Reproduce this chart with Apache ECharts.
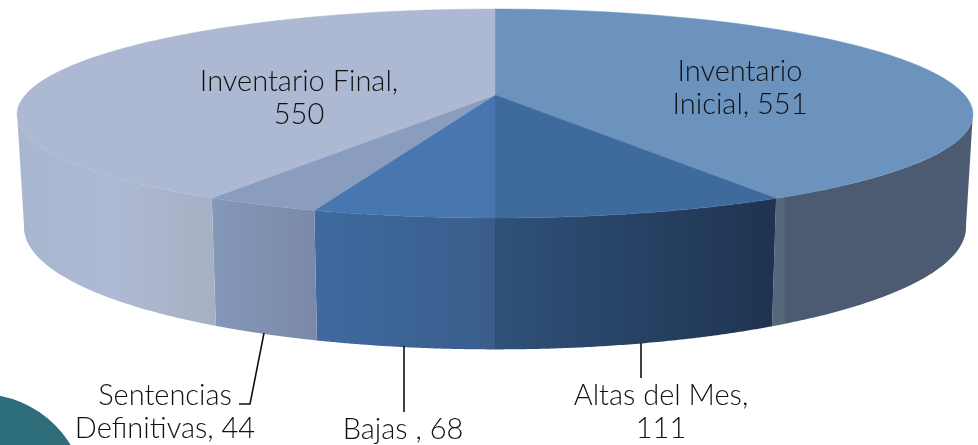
<!DOCTYPE html>
<html>
<head>
<meta charset="utf-8">
<title>Inventario</title>
<script src="https://cdn.jsdelivr.net/npm/echarts@6/dist/echarts.min.js"></script>
<style>
  html, body { margin: 0; padding: 0; background: #fff; }
  #main { width: 978px; height: 445px; }
</style>
</head>
<body>
<div id="main"></div>
<script>
var categories = ['Inventario Inicial', 'Altas del Mes', 'Bajas ', 'Sentencias Definitivas', 'Inventario Final'];
var values = [551, 111, 68, 44, 550];

var topColors = ['#6b93bd', '#3f6a9c', '#4776b0', '#8a9dbf', '#adb9d2'];
var sideStops = [
    [[0, '#56687b'], [0.06, '#56687b'], [0.065, '#4c5b72'], [1, '#4c5b72']],
    [[0, '#2f5179'], [1, '#1f3350']],
    [[0, '#3f6aa0'], [1, '#3a5d8b']],
    [[0, '#8498b9'], [1, '#7b88a9']],
    [[0, '#a8b6cf'], [0.5, '#aebad3'], [1, '#a5b0c3']]
];

var total = values.reduce(function (a, b) { return a + b; }, 0);
var angles = [0];
values.forEach(function (v, i) { angles.push(angles[i] + v / total * Math.PI * 2); });

// perspective of the top and bottom faces of the disc
var cx = 495;
var topFace = { r: 469.7, a: 95, b: 84.4, c: -0.177, cu: -0.185 };
var botFace = { r: 462.9, a: 204, b: 86, c: -0.17, cu: -0.185 };
var visFrom = 100 * Math.PI / 180;
var visTo = 260 * Math.PI / 180;

function project(f, t) {
    var u = Math.sin(t), v = -Math.cos(t);
    return [cx + f.r * u / (1 + f.cu * v), (f.a + f.b * v) / (1 + f.c * v)];
}

function arc(f, from, to) {
    var pts = [], n = 90;
    for (var i = 0; i <= n; i++) {
        pts.push(project(f, from + (to - from) * i / n));
    }
    return pts;
}

function renderTop(params, api) {
    var i = params.dataIndex;
    var pts = [[cx, topFace.a]].concat(arc(topFace, angles[i], angles[i + 1]));
    return {
        type: 'polygon',
        shape: { points: pts },
        style: { fill: topColors[i], stroke: topColors[i], lineWidth: 0.5 }
    };
}

function renderSide(params, api) {
    var i = params.dataIndex;
    var from = Math.max(angles[i], visFrom);
    var to = Math.min(angles[i + 1], visTo);
    if (to <= from) return null;
    var pts = arc(topFace, from, to).concat(arc(botFace, from, to).reverse());
    var stops = sideStops[i].map(function (s) { return { offset: s[0], color: s[1] }; });
    return {
        type: 'polygon',
        shape: { points: pts },
        style: { fill: new echarts.graphic.LinearGradient(0, 0, 1, 0, stops) }
    };
}

function label(text, x, y) {
    return {
        type: 'text',
        x: x,
        y: y,
        z: 10,
        style: {
            text: text,
            fill: '#111',
            font: '300 29px Lato, sans-serif',
            lineHeight: 33,
            align: 'center',
            verticalAlign: 'middle'
        }
    };
}

function leader(points) {
    return {
        type: 'polyline',
        z: 9,
        shape: { points: points },
        style: { stroke: '#111', lineWidth: 1.6, fill: null }
    };
}

var chart = echarts.init(document.getElementById('main'));
chart.setOption({
    animation: false,
    backgroundColor: '#fff',
    graphic: [
        { type: 'circle', shape: { cx: -20, cy: 500, r: 106 }, style: { fill: '#2e6e7b' } },
        leader([[264, 333], [250, 404], [239, 404]]),
        leader([[404, 346], [404, 412]]),
        leader([[641, 343], [641, 378]]),
        label('Inventario\nInicial, ' + values[0], 740, 88),
        label('Inventario Final,\n' + values[4], 299, 98),
        label('Sentencias\nDefinitivas, ' + values[3], 165, 412),
        label(categories[2] + ', ' + values[2], 403, 430),
        label('Altas del Mes,\n' + values[1], 661, 412)
    ],
    series: [
        { type: 'custom', coordinateSystem: 'none', silent: true, z: 1, renderItem: renderSide, data: values },
        { type: 'custom', coordinateSystem: 'none', silent: true, z: 2, renderItem: renderTop, data: values }
    ]
});
</script>
</body>
</html>
